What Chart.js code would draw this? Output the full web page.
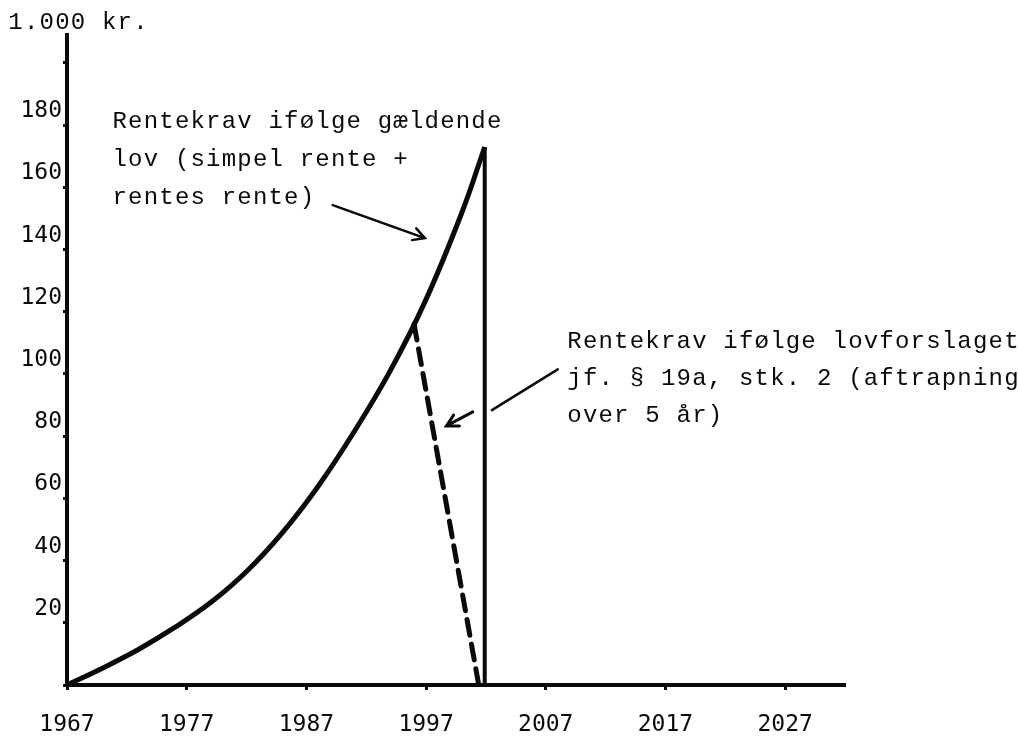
<!DOCTYPE html>
<html>
<head>
<meta charset="utf-8">
<script src="https://cdn.jsdelivr.net/npm/chart.js@4"></script>
<style>
  html, body { margin: 0; padding: 0; background: #fff; }
  #wrap { width: 1018px; height: 740px; }
</style>
</head>
<body>
<div id="wrap"><canvas id="myChart" width="1018" height="740"></canvas></div>
<script>
// values (1.000 kr.)
const curveYears  = [1967, 1970, 1973, 1976, 1979, 1982, 1985, 1988, 1991, 1994, 1997, 2000, 2001.9];
const curveValues = [0,    5.5,  11.5, 18.5, 26.5, 36.5, 49,   64,   81.5, 101,  124,  152,  173];
const dropYears   = [2001.9, 2001.9];
const dropValues  = [173, 0];
const phaseYears  = [1996, 2001.4];
const phaseValues = [116, 0];

const xTicks = [1967, 1977, 1987, 1997, 2007, 2017, 2027];
const yTicks = [0, 20, 40, 60, 80, 100, 120, 140, 160, 180, 200];
const yTickLabels = ['', '20', '40', '60', '80', '100', '120', '140', '160', '180', ''];

const unitLabel = '1.000 kr.';
const noteOld = ['Rentekrav ifølge gældende', 'lov (simpel rente +', 'rentes rente)'];
const noteNew = ['Rentekrav ifølge lovforslaget', 'jf. § 19a, stk. 2 (aftrapning', 'over 5 år)'];

const toPoints = (xs, ys) => xs.map((x, i) => ({ x: x, y: ys[i] }));

const ink = '#0a0a0a';
const tickFont = { family: 'DejaVu Sans Mono', size: 23 };

function arrow(ctx, x1, y1, x2, y2) {
  ctx.beginPath();
  ctx.moveTo(x1, y1);
  ctx.lineTo(x2, y2);
  const a = Math.atan2(y2 - y1, x2 - x1);
  const h = 13;
  ctx.moveTo(x2 - h * Math.cos(a - 0.5), y2 - h * Math.sin(a - 0.5));
  ctx.lineTo(x2, y2);
  ctx.lineTo(x2 - h * Math.cos(a + 0.5), y2 - h * Math.sin(a + 0.5));
  ctx.stroke();
}

const notes = {
  id: 'notes',
  afterDraw(chart) {
    const ctx = chart.ctx;
    const xs = chart.scales.x, ys = chart.scales.y;
    const px = v => xs.getPixelForValue(v);
    const py = v => ys.getPixelForValue(v);
    ctx.save();
    ctx.fillStyle = ink;
    ctx.strokeStyle = ink;
    ctx.font = '24px "Liberation Mono"';
    ctx.letterSpacing = '1.2px';
    ctx.textBaseline = 'alphabetic';
    ctx.fillText(unitLabel, px(1962.1), py(210.9));
    const oldY = [179.1, 166.9, 154.7];
    noteOld.forEach((t, i) => ctx.fillText(t, px(1970.8), py(oldY[i])));
    const newY = [108.4, 96.5, 84.6];
    noteNew.forEach((t, i) => ctx.fillText(t, px(2008.8), py(newY[i])));
    ctx.lineWidth = 2.5;
    ctx.lineCap = 'round';
    arrow(ctx, px(1989.2), py(154.3), px(1996.9), py(143.7));
    ctx.beginPath();
    ctx.moveTo(px(2002.5), py(88.4));
    ctx.lineTo(px(2008.0), py(101.5));
    ctx.stroke();
    ctx.lineWidth = 3;
    arrow(ctx, px(2000.9), py(87.8), px(1998.7), py(83.3));
    ctx.restore();
  }
};

const ctx = document.getElementById('myChart').getContext('2d');
const myChart = new Chart(ctx, {
  type: 'line',
  data: {
    datasets: [
      {
        label: 'Gældende lov',
        data: toPoints(curveYears, curveValues),
        borderColor: ink,
        borderWidth: 5,
        tension: 0.4,
        pointRadius: 0,
      },
      {
        label: 'Ophør',
        data: toPoints(dropYears, dropValues),
        borderColor: ink,
        borderWidth: 4,
        pointRadius: 0,
      },
      {
        label: 'Lovforslaget',
        data: toPoints(phaseYears, phaseValues),
        borderColor: ink,
        borderWidth: 5,
        borderDash: [16, 9],
        borderCapStyle: 'round',
        pointRadius: 0,
      },
    ],
  },
  options: {
    responsive: false,
    animation: false,
    events: [],
    layout: { padding: { left: 0, top: 35, right: 173, bottom: 0 } },
    plugins: {
      legend: { display: false },
      tooltip: { enabled: false },
    },
    scales: {
      x: {
        type: 'linear',
        min: 1967,
        max: 2032,
        afterBuildTicks: s => { s.ticks = xTicks.map(v => ({ value: v })); },
        afterFit: s => { s.height = 55; },
        ticks: {
          callback: v => String(v),
          font: tickFont,
          color: ink,
          padding: 21,
          maxRotation: 0,
          autoSkip: false,
        },
        grid: { drawOnChartArea: false, tickLength: 5, tickWidth: 3, color: ink },
        border: { display: true, width: 4, color: ink },
      },
      y: {
        type: 'linear',
        min: 0,
        max: 209,
        afterBuildTicks: s => { s.ticks = yTicks.map(v => ({ value: v })); },
        afterFit: s => { s.width = 67; },
        ticks: {
          callback: (v, i) => yTickLabels[i],
          font: tickFont,
          color: ink,
          padding: 1,
          labelOffset: -14,
          autoSkip: false,
        },
        grid: { drawOnChartArea: false, tickLength: 4, tickWidth: 3, color: ink },
        border: { display: true, width: 4, color: ink },
      },
    },
  },
  plugins: [notes],
});
</script>
</body>
</html>
